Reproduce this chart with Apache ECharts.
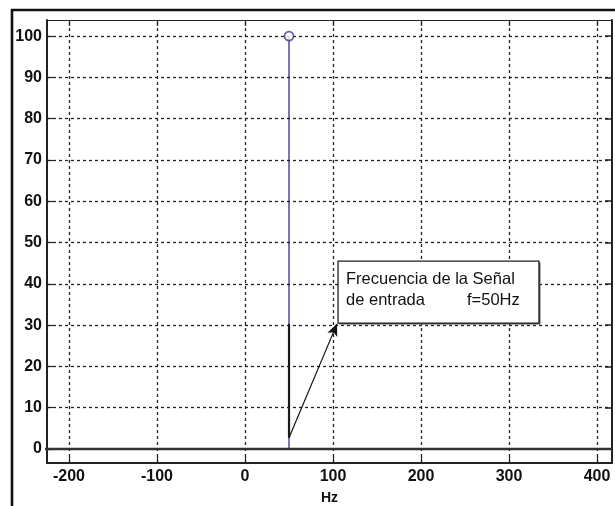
<!DOCTYPE html>
<html><head><meta charset="utf-8">
<script src="https://cdn.jsdelivr.net/npm/echarts@6/dist/echarts.min.js"></script>
<style>html,body{margin:0;padding:0;background:#fff}#c{width:615px;height:506px}</style>
</head><body><div id="c"></div>
<script>
// ---- data ----
const xTicks = [-200, -100, 0, 100, 200, 300, 400];
const yTicks = [0, 10, 20, 30, 40, 50, 60, 70, 80, 90, 100];
const xRange = [-225, 417];
const yRange = [-3.4, 103.9];
const stemX = [50];
const stemY = [100];
const annotationLines = ['Frecuencia de la Señal', 'de entrada', 'f=50Hz'];
const annotationBox = [105.7, 45.5, 334, 30.5];   // x1, y1, x2, y2 (data units)
const arrowFrom = [50, 2.7];
const arrowTo = [104.5, 30.3];
const pointerSegment = [[50, 2.7], [50, 30.3]];
const zeroLine = [[-250, 0], [417, 0]];
const xName = 'Hz';

const font = '"Liberation Sans", Arial, sans-serif';
const chart = echarts.init(document.getElementById('c'), null, {renderer: 'canvas'});

const gridMarks = xTicks.map(v => ({xAxis: v})).concat(yTicks.filter(v => v !== 0).map(v => ({yAxis: v})));

const stemSeries = stemX.map((x, i) => ({
  type: 'line', data: [[x, 0], [x, stemY[i]]], symbol: 'none', silent: true,
  lineStyle: {color: '#5656a6', width: 1.6}, z: 4, animation: false
}));

chart.setOption({
  animation: false,
  backgroundColor: '#fff',
  grid: {left: 47, right: 3, top: 20, bottom: 43, show: false, containLabel: false, outerBoundsMode: 'none'},
  xAxis: [{
    type: 'value', position: 'bottom', min: xRange[0], max: xRange[1],
    axisLine: {show: true, onZero: false, lineStyle: {color: '#222', width: 2}},
    axisTick: {show: true, inside: true, length: 6, customValues: xTicks, lineStyle: {color: '#222', width: 1.2}},
    axisLabel: {customValues: xTicks, color: '#111', fontSize: 16, fontWeight: 'bold', fontFamily: font, margin: 6},
    splitLine: {show: false},
    name: xName, nameLocation: 'middle', nameGap: 28,
    nameTextStyle: {color: '#111', fontSize: 14, fontWeight: 'bold', fontFamily: font}
  }, {
    type: 'value', position: 'top', min: xRange[0], max: xRange[1],
    axisLine: {show: true, onZero: false, lineStyle: {color: '#222', width: 1}},
    axisTick: {show: true, inside: true, length: 6, customValues: xTicks, lineStyle: {color: '#222', width: 1.2}},
    axisLabel: {show: false}, splitLine: {show: false}
  }],
  yAxis: [{
    type: 'value', position: 'left', min: yRange[0], max: yRange[1],
    axisLine: {show: true, onZero: false, lineStyle: {color: '#222', width: 2}},
    axisTick: {show: true, inside: true, length: 6, customValues: yTicks, lineStyle: {color: '#222', width: 1.2}},
    axisLabel: {customValues: yTicks, color: '#111', fontSize: 16, fontWeight: 'bold', fontFamily: font, margin: 5},
    splitLine: {show: false}
  }, {
    type: 'value', position: 'right', min: yRange[0], max: yRange[1],
    axisLine: {show: true, onZero: false, lineStyle: {color: '#222', width: 2}},
    axisTick: {show: true, inside: true, length: 7, customValues: yTicks, lineStyle: {color: '#222', width: 1.5}},
    axisLabel: {show: false}, splitLine: {show: false}
  }],
  graphic: [
    {type: 'line', shape: {x1: 12, y1: 9, x2: 12, y2: 506}, style: {stroke: '#111', lineWidth: 2.6}, silent: true},
    {type: 'line', shape: {x1: 11, y1: 10, x2: 615, y2: 10}, style: {stroke: '#111', lineWidth: 2.6}, silent: true}
  ],
  series: [
    {
      type: 'line', data: [], silent: true, z: 1,
      markLine: {
        silent: true, symbol: 'none', label: {show: false}, animation: false,
        lineStyle: {color: '#222', type: [3, 3], width: 1.3},
        emphasis: {disabled: true},
        data: gridMarks
      }
    },
    ...stemSeries,
    {
      type: 'line', data: pointerSegment, symbol: 'none', silent: true, z: 5,
      lineStyle: {color: '#1a1a1a', width: 2.2}
    },
    {
      type: 'line', data: zeroLine, symbol: 'none', silent: true, clip: false, z: 6,
      lineStyle: {color: '#333', width: 2.6}
    },
    {
      type: 'scatter', data: stemX.map((x, i) => [x, stemY[i]]), symbol: 'circle', symbolSize: 9,
      silent: true, z: 7,
      itemStyle: {color: '#fff', borderColor: '#3c3c96', borderWidth: 1.8}
    },
    {
      type: 'line', data: [], silent: true, z: 8,
      markLine: {
        silent: true, symbol: ['none', 'arrow'], symbolSize: [8, 12], label: {show: false}, animation: false,
        lineStyle: {color: '#111', type: 'solid', width: 1.2},
        itemStyle: {color: '#111'},
        emphasis: {disabled: true},
        data: [[{coord: arrowFrom}, {coord: arrowTo}]]
      }
    },
    {
      type: 'custom', silent: true, z: 9, clip: false,
      data: [annotationBox],
      renderItem: function (params, api) {
        const p1 = api.coord([api.value(0), api.value(1)]);
        const p2 = api.coord([api.value(2), api.value(3)]);
        const w = p2[0] - p1[0], h = p2[1] - p1[1];
        return {
          type: 'group',
          children: [
            {type: 'rect', shape: {x: p1[0] + 1.5, y: p1[1] + 1.5, width: w, height: h},
              style: {fill: '#555', stroke: null}},
            {type: 'rect', shape: {x: p1[0], y: p1[1], width: w, height: h},
              style: {fill: '#fff', stroke: '#222', lineWidth: 1.3}},
            {type: 'text', x: p1[0] + 8, y: p1[1] + 18,
              style: {text: annotationLines[0], font: '16.5px ' + font, fill: '#111', verticalAlign: 'middle'}},
            {type: 'text', x: p1[0] + 8, y: p1[1] + 39,
              style: {text: annotationLines[1], font: '16.5px ' + font, fill: '#111', verticalAlign: 'middle'}},
            {type: 'text', x: p1[0] + 129, y: p1[1] + 39,
              style: {text: annotationLines[2], font: '16.5px ' + font, fill: '#111', verticalAlign: 'middle'}}
          ]
        };
      }
    }
  ]
});
</script>
</body></html>
